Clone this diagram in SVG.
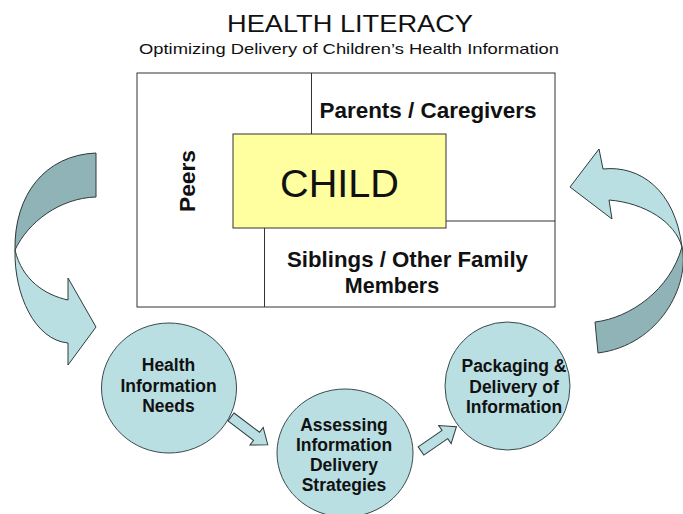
<svg xmlns="http://www.w3.org/2000/svg" width="683" height="514" viewBox="0 0 683 514">
<style>
.t{font-family:"Liberation Sans",Arial,sans-serif;fill:#111;text-anchor:middle}
.b{font-weight:bold}
.c{fill:#b9dfe2;stroke:#3a4a4c;stroke-width:1}
.lt{fill:#b9dfe2;stroke:#2f3a3b;stroke-width:1;stroke-linejoin:miter}
.dk{fill:#8fb3b6;stroke:#2f3a3b;stroke-width:1}
.ln{stroke:#333;stroke-width:1;fill:none}
</style>
<rect width="683" height="514" fill="#fff"/>
<g id="title">
<text class="t" x="350" y="32" font-size="24" textLength="246" lengthAdjust="spacingAndGlyphs">HEALTH LITERACY</text>
<text class="t" x="349" y="54" font-size="15" textLength="420" lengthAdjust="spacingAndGlyphs">Optimizing Delivery of Children’s Health Information</text>
</g>
<g id="context-box">
<rect x="137" y="73" width="418" height="234" fill="#fff" stroke="#333" stroke-width="1"/>
<line class="ln" x1="311.5" y1="73" x2="311.5" y2="134"/>
<line class="ln" x1="446" y1="221" x2="555" y2="221"/>
<line class="ln" x1="264.5" y1="228" x2="264.5" y2="307"/>
</g>
<g id="parents">
<text class="t b" x="428" y="118" font-size="21.5" textLength="217" lengthAdjust="spacingAndGlyphs">Parents / Caregivers</text>
</g>
<g id="siblings">
<text class="t b" x="407.5" y="267" font-size="21.5" textLength="241" lengthAdjust="spacingAndGlyphs">Siblings / Other Family</text>
<text class="t b" x="392" y="293" font-size="21.5">Members</text>
</g>
<g id="peers">
<text class="t b" transform="translate(195,181) rotate(-90)" x="0" y="0" font-size="22" textLength="62" lengthAdjust="spacingAndGlyphs">Peers</text>
</g>
<g id="child">
<rect x="233" y="134" width="213" height="94" fill="#ffff9f" stroke="#333" stroke-width="1"/>
<text class="t" x="339.5" y="197" font-size="38" textLength="119" lengthAdjust="spacingAndGlyphs">CHILD</text>
</g>
<g id="needs">
<ellipse class="c" cx="169" cy="388" rx="67.5" ry="65"/>
<text class="t b" font-size="17.5"><tspan x="168.5" y="371">Health</tspan><tspan x="168.5" y="392">Information</tspan><tspan x="168.5" y="412">Needs</tspan></text>
</g>
<g id="assessing">
<ellipse class="c" cx="345" cy="453" rx="68" ry="64"/>
<text class="t b" font-size="17.5"><tspan x="344" y="431">Assessing</tspan><tspan x="344" y="451">Information</tspan><tspan x="344" y="471">Delivery</tspan><tspan x="344" y="491">Strategies</tspan></text>
</g>
<g id="packaging">
<ellipse class="c" cx="507.5" cy="386" rx="62.5" ry="64"/>
<text class="t b" font-size="17.5"><tspan x="514" y="372">Packaging &amp;</tspan><tspan x="514" y="393">Delivery of</tspan><tspan x="514" y="413">Information</tspan></text>
</g>
<g id="connectors">
<path class="dk" d="M96,153 C45,155 14,195 15,250 C28,222 60,198 96,197 Z"/>
<path class="lt" d="M15,250 C14,295 35,340 68,343 L68,365 L96,327 L68,278 L68,300 C45,295 22,280 15,250 Z"/>
<path class="dk" d="M682,247 C690,285 660,345 598,353 L595,322 C630,318 670,290 682,247 Z"/>
<path class="lt" d="M570,187 L599,149 L603,169 C640,165 675,190 682,247 C675,222 645,203 609,200 L612,219 Z"/>
<polygon class="lt" transform="translate(231,417) rotate(37)" points="0,-5 32,-5 32,-11 46,0 32,11 32,5 0,5"/>
<polygon class="lt" transform="translate(421,451) rotate(-34.5)" points="0,-5 29,-5 29,-11 43,0 29,11 29,5 0,5"/>
</g>
</svg>
